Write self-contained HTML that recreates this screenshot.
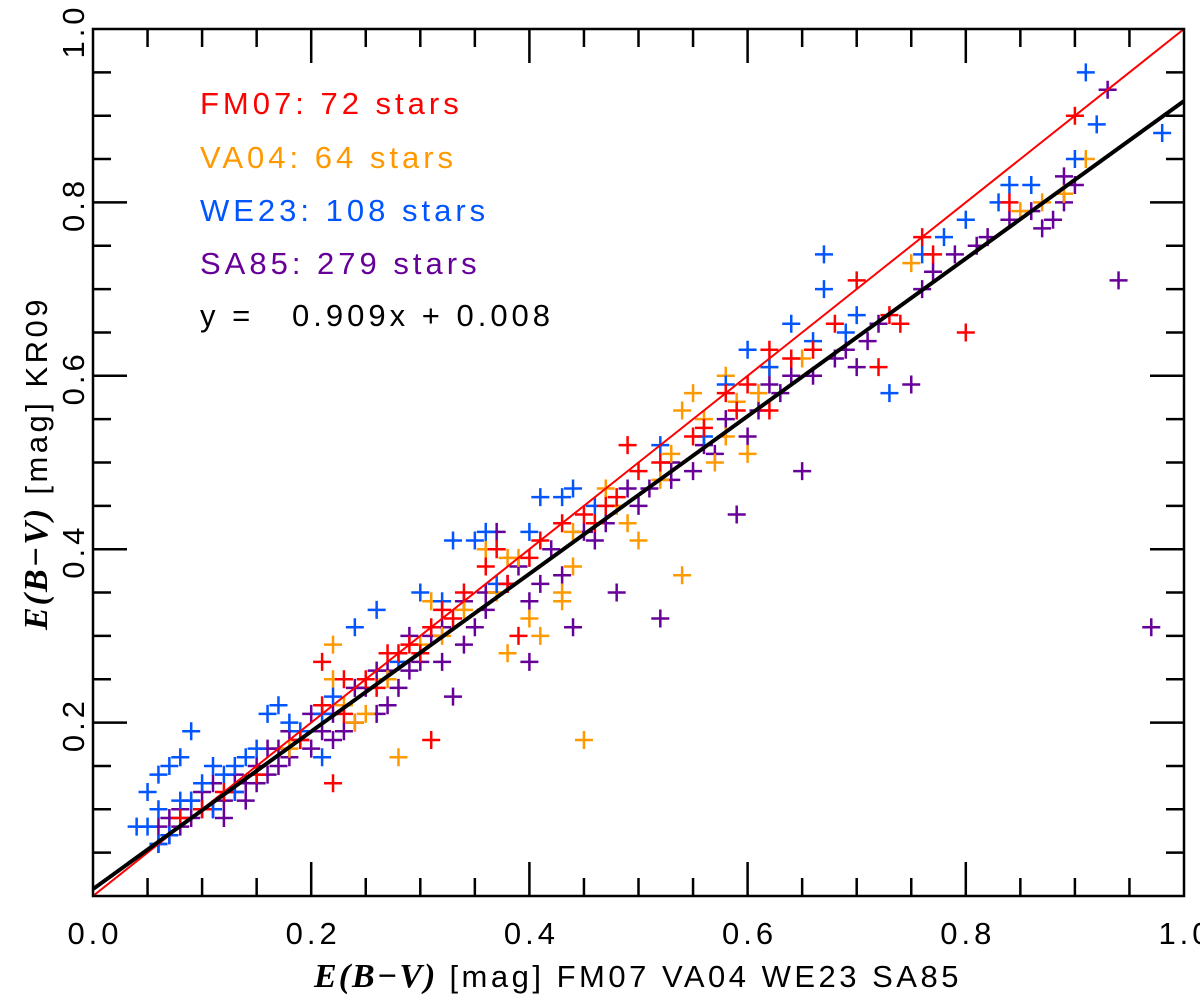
<!DOCTYPE html>
<html><head><meta charset="utf-8">
<style>
html,body{margin:0;padding:0;background:#fff;}
svg{display:block;}
text{font-family:"Liberation Sans",sans-serif;}
</style></head>
<body>
<svg id="chart" width="1200" height="1007" viewBox="0 0 1200 1007" xmlns="http://www.w3.org/2000/svg">
<g id="marks"></g>
<g id="axes"></g>
<g font-size="31" letter-spacing="4">
<text x="200" y="114" fill="#ff0000">FM07: 72 stars</text>
<text x="200" y="168" fill="#ff9900">VA04: 64 stars</text>
<text x="200" y="221" fill="#0055ff">WE23: 108 stars</text>
<text x="200" y="274" fill="#660099">SA85: 279 stars</text>
<text x="200" y="326" fill="#000" xml:space="preserve">y =   0.909x + 0.008</text>
</g>
<text x="638" y="987" text-anchor="middle" font-size="31" letter-spacing="3.5"><tspan font-family="Liberation Serif" font-style="italic" font-weight="bold" font-size="34" letter-spacing="2">E(B−V)</tspan> [mag] FM07 VA04 WE23 SA85</text>
<text transform="translate(47,463) rotate(-90)" text-anchor="middle" font-size="31" letter-spacing="3.5"><tspan font-family="Liberation Serif" font-style="italic" font-weight="bold" font-size="34" letter-spacing="2">E(B−V)</tspan> [mag] KR09</text>
</svg>
<script>
const xTicks=[0,0.2,0.4,0.6,0.8,1.0];
const yTicks=[0.2,0.4,0.6,0.8,1.0];
const xTickLabels=["0.0","0.2","0.4","0.6","0.8","1.0"];
const yTickLabels=["0.2","0.4","0.6","0.8","1.0"];
const fitSlope=0.909;
const fitIntercept=0.008;
const fmX=[0.9,0.8,0.76,0.70,0.73,0.74,0.72,0.62,0.62,0.60,0.58,0.55,0.49,0.50,0.48,0.45,0.43,0.40,0.37,0.36,0.39,0.34,0.32,0.31,0.31,0.28,0.27,0.25,0.23,0.22,0.21,0.21,0.23,0.26,0.29,0.33,0.41,0.46,0.52,0.56,0.64,0.68,0.77,0.84,0.66,0.59,0.47,0.38,0.30,0.19,0.15,0.12,0.10,0.08];
const fmY=[0.90,0.65,0.76,0.71,0.67,0.66,0.61,0.63,0.56,0.59,0.58,0.53,0.52,0.49,0.46,0.44,0.43,0.39,0.40,0.38,0.30,0.35,0.33,0.31,0.18,0.28,0.28,0.25,0.25,0.13,0.27,0.22,0.21,0.24,0.29,0.32,0.41,0.43,0.50,0.54,0.62,0.66,0.74,0.80,0.63,0.56,0.45,0.36,0.28,0.18,0.14,0.12,0.10,0.09];
const vaX=[0.91,0.89,0.87,0.54,0.55,0.58,0.60,0.58,0.57,0.54,0.50,0.49,0.45,0.28,0.22,0.22,0.24,0.25,0.40,0.39,0.38,0.44,0.43,0.43,0.37,0.36,0.34,0.32,0.31,0.30,0.41,0.38,0.48,0.52,0.56,0.61,0.75,0.80,0.85,0.62,0.65,0.44,0.27,0.23,0.18,0.47,0.59,0.53];
const vaY=[0.85,0.81,0.80,0.56,0.58,0.60,0.51,0.53,0.50,0.37,0.41,0.43,0.18,0.16,0.29,0.25,0.20,0.21,0.32,0.39,0.39,0.38,0.35,0.34,0.35,0.40,0.33,0.30,0.34,0.29,0.30,0.28,0.45,0.48,0.55,0.58,0.73,0.78,0.79,0.61,0.62,0.42,0.25,0.22,0.17,0.47,0.57,0.51];
const weX=[0.91,0.92,0.98,0.90,0.84,0.86,0.80,0.78,0.73,0.67,0.67,0.64,0.66,0.70,0.60,0.58,0.56,0.44,0.43,0.41,0.40,0.36,0.35,0.33,0.30,0.32,0.26,0.24,0.22,0.21,0.21,0.18,0.17,0.16,0.15,0.14,0.13,0.11,0.09,0.08,0.07,0.06,0.05,0.04,0.06,0.07,0.08,0.09,0.10,0.12,0.11,0.06,0.05,0.13,0.19,0.28,0.37,0.46,0.52,0.62,0.69,0.76,0.83];
const weY=[0.95,0.89,0.88,0.85,0.82,0.82,0.78,0.76,0.58,0.74,0.70,0.66,0.64,0.67,0.63,0.59,0.53,0.47,0.46,0.46,0.42,0.42,0.41,0.41,0.35,0.34,0.33,0.31,0.23,0.16,0.21,0.20,0.22,0.21,0.17,0.16,0.15,0.15,0.19,0.16,0.15,0.14,0.12,0.08,0.06,0.07,0.11,0.11,0.13,0.14,0.10,0.10,0.08,0.12,0.19,0.27,0.36,0.45,0.52,0.61,0.65,0.74,0.80];
const saX=[0.93,0.97,0.94,0.89,0.88,0.87,0.89,0.82,0.79,0.76,0.75,0.70,0.71,0.68,0.65,0.64,0.63,0.61,0.60,0.59,0.57,0.55,0.53,0.52,0.51,0.50,0.48,0.47,0.46,0.44,0.43,0.41,0.40,0.40,0.38,0.37,0.36,0.35,0.34,0.33,0.32,0.30,0.29,0.28,0.27,0.26,0.25,0.24,0.23,0.22,0.21,0.20,0.19,0.18,0.17,0.16,0.15,0.14,0.13,0.12,0.11,0.10,0.09,0.08,0.07,0.06,0.07,0.08,0.10,0.12,0.14,0.16,0.18,0.20,0.24,0.26,0.29,0.31,0.34,0.36,0.39,0.42,0.45,0.49,0.53,0.56,0.58,0.62,0.66,0.69,0.72,0.77,0.81,0.84,0.86,0.90,0.11,0.09,0.06,0.13,0.15,0.17,0.22,0.27,0.32];
const saY=[0.93,0.31,0.71,0.83,0.78,0.77,0.80,0.76,0.74,0.70,0.59,0.61,0.64,0.62,0.49,0.60,0.58,0.56,0.53,0.44,0.51,0.49,0.48,0.32,0.47,0.45,0.35,0.43,0.41,0.31,0.37,0.36,0.27,0.34,0.36,0.42,0.33,0.31,0.29,0.23,0.27,0.27,0.26,0.24,0.22,0.21,0.24,0.20,0.19,0.18,0.19,0.17,0.18,0.16,0.15,0.14,0.13,0.13,0.12,0.11,0.10,0.10,0.09,0.08,0.07,0.06,0.09,0.10,0.12,0.09,0.11,0.17,0.19,0.21,0.24,0.26,0.30,0.30,0.34,0.35,0.38,0.40,0.42,0.47,0.50,0.52,0.55,0.59,0.60,0.63,0.66,0.72,0.75,0.78,0.79,0.82,0.13,0.11,0.08,0.14,0.15,0.17,0.21,0.26,0.31];

const X0=93,X1=1184,Y0=896,Y1=29;
function sx(v){return X0+(X1-X0)*v;}
function sy(v){return Y0-(Y0-Y1)*v;}
const NS="http://www.w3.org/2000/svg";
function mk(tag,attrs,parent){const e=document.createElementNS(NS,tag);for(const k in attrs)e.setAttribute(k,attrs[k]);parent.appendChild(e);return e;}
const marks=document.getElementById('marks');
const axes=document.getElementById('axes');

function series(xs,ys,color,name){
  const g=mk('g',{},marks);
  
  
  for(let i=0;i<xs.length;i++){
    const cx=sx(xs[i]),cy=sy(ys[i]);
    const p=mk('path',{d:`M${cx-9},${cy}H${cx+9}M${cx},${cy-9}V${cy+9}`,stroke:color,'stroke-width':2.5,fill:'none'},g);
    
    
  }
}
series(saX,saY,'#660099','sa85');
series(vaX,vaY,'#ff9900','va04');
series(weX,weY,'#0055ff','we23');
series(fmX,fmY,'#ff0000','fm07');

const oneToOne=mk('line',{x1:sx(0),y1:sy(0),x2:sx(1),y2:sy(1),stroke:'#ff0000','stroke-width':2},marks);


const fit=mk('line',{x1:sx(0),y1:sy(fitIntercept),x2:sx(1),y2:sy(fitSlope+fitIntercept),stroke:'#000','stroke-width':4},marks);



const frame=mk('rect',{x:X0,y:Y1,width:X1-X0,height:Y0-Y1,fill:'none',stroke:'#000','stroke-width':2.5},axes);


let d='';
for(let i=1;i<20;i++){
  const v=i*0.05;const major=(i%4===0);const L=major?34:18;
  const x=sx(v),y=sy(v);
  d+=`M${x},${Y0}V${Y0-L}M${x},${Y1}V${Y1+L}M${X0},${y}H${X0+L}M${X1},${y}H${X1-L}`;
}
const ticks=mk('path',{d:d,stroke:'#000','stroke-width':2.5,fill:'none'},axes);


xTicks.forEach((v,i)=>{
  const t=mk('text',{x:sx(v)+2,y:944,'text-anchor':'middle','font-size':31,'letter-spacing':4},axes);
  t.textContent=xTickLabels[i];
  
  
});
yTicks.forEach((v,i)=>{
  const t=mk('text',{transform:`translate(84,${sy(v)+2}) rotate(-90)`,'text-anchor':'middle','font-size':31,'letter-spacing':4},axes);
  t.textContent=yTickLabels[i];
  
  
});
</script>
</body></html>
